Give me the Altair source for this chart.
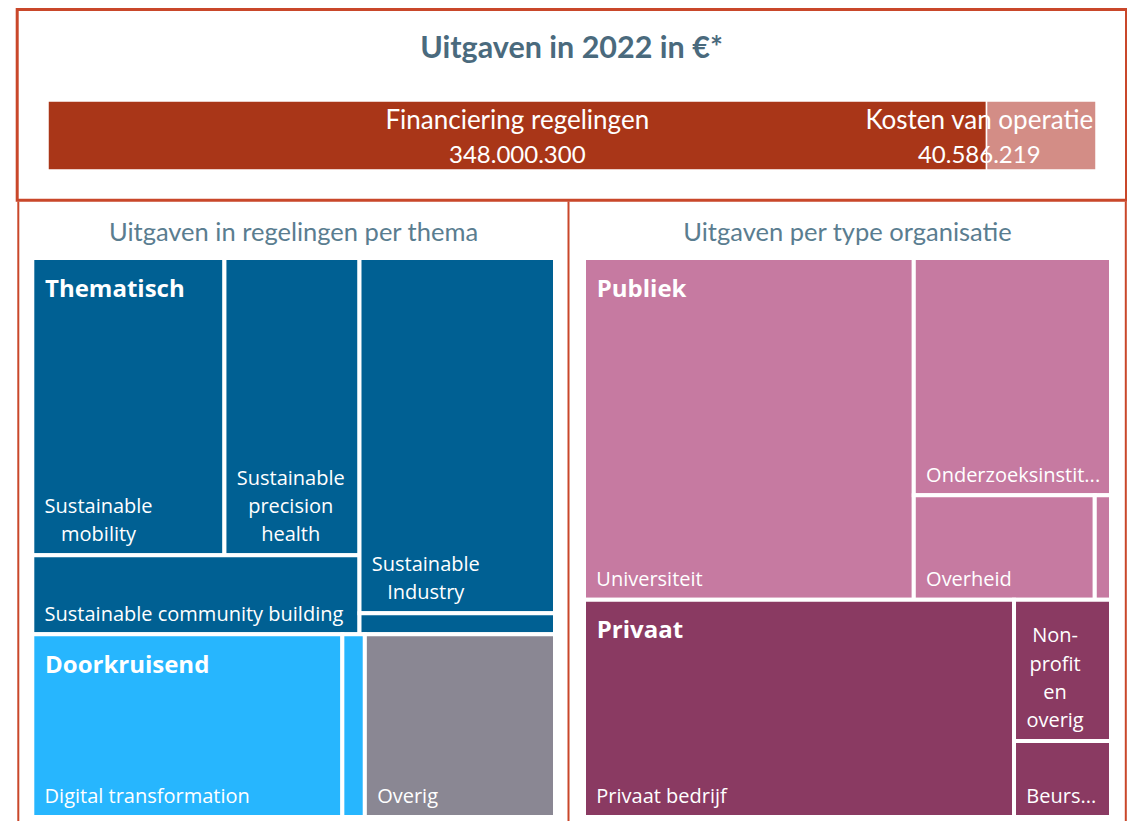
import math
import altair as alt
import pandas as pd

# ---------------- data ----------------
main_title = ["Uitgaven in 2022 in €*"]
panel_titles = ["Uitgaven in regelingen per thema", "Uitgaven per type organisatie"]

bar_categories = ["Financiering regelingen", "Kosten van operatie"]
bar_values = [348000300, 40586219]
bar_colors = ["#A93618", "#D38D86"]

thema_groups = ["Thematisch", "Thematisch", "Thematisch", "Thematisch", "Thematisch",
                "Doorkruisend", "Doorkruisend", "Overig"]
thema_names = ["Sustainable mobility", "Sustainable precision health",
               "Sustainable community building", "Sustainable Industry",
               "Overig thematisch", "Digital transformation", "Overig doorkruisend", "Overig"]
thema_values = [68_000_000, 47_800_000, 30_800_000, 82_700_000, 4_900_000,
                67_500_000, 4_900_000, 41_400_000]
thema_group_names = ["Thematisch", "Doorkruisend", "Overig"]
thema_group_colors = ["#006093", "#27B6FE", "#8A8793"]

org_groups = ["Publiek", "Publiek", "Publiek", "Publiek", "Privaat", "Privaat", "Privaat"]
org_names = ["Universiteit", "Onderzoeksinstituut", "Overheid", "Overig publiek",
             "Privaat bedrijf", "Non-profit en overig", "Beursgenoteerd bedrijf"]
org_values = [133_100_000, 55_300_000, 22_300_000, 2_000_000,
              110_400_000, 16_200_000, 8_700_000]
org_group_names = ["Publiek", "Privaat"]
org_group_colors = ["#C67AA1", "#8A3A62"]

# nested split structure of the treemaps ("h" = side by side, "v" = stacked)
thema_tree = ("v", [
    ("h", [("v", [("h", ["Sustainable mobility", "Sustainable precision health"]),
                  "Sustainable community building"]),
           ("v", ["Sustainable Industry", "Overig thematisch"])]),
    ("h", [("h", ["Digital transformation", "Overig doorkruisend"]), "Overig"]),
])
org_tree = ("v", [
    ("h", ["Universiteit", ("v", ["Onderzoeksinstituut", ("h", ["Overheid", "Overig publiek"])])]),
    ("h", ["Privaat bedrijf", ("v", ["Non-profit en overig", "Beursgenoteerd bedrijf"])]),
])

# ---------------- style / layout constants ----------------
ORANGE = "#C9472A"
TITLE_COLOR = "#4A6A7D"
SUB_COLOR = "#5A7D90"
W, H = 1119, 813          # chart size (page minus 8px margins)
OFF = 8                   # page margin
LABEL_FS = 20
HEAD_FS = 24
LH = 28.3

X_SC = alt.Scale(domain=[OFF, OFF + W], range=[0, W], nice=False)
Y_SC = alt.Scale(domain=[OFF, OFF + H], range=[0, H], nice=False)

# Open Sans advance widths (em) for label fitting
OS_W = {
    ' ': .260, '-': .322, '.': .266, ',': .248,
    'a': .556, 'b': .613, 'c': .476, 'd': .613, 'e': .561, 'f': .339, 'g': .548, 'h': .614,
    'i': .253, 'j': .253, 'k': .525, 'l': .253, 'm': .930, 'n': .614, 'o': .604, 'p': .613,
    'q': .613, 'r': .408, 's': .477, 't': .353, 'u': .614, 'v': .501, 'w': .778, 'x': .524,
    'y': .502, 'z': .477,
    'A': .633, 'B': .648, 'C': .631, 'D': .729, 'E': .556, 'F': .516, 'G': .728, 'H': .738,
    'I': .279, 'J': .268, 'K': .628, 'L': .549, 'M': .903, 'N': .754, 'O': .779, 'P': .602,
    'Q': .779, 'R': .618, 'S': .549, 'T': .561, 'U': .738, 'V': .606, 'W': .928, 'X': .577,
    'Y': .561, 'Z': .568,
}


def text_w(s, size=LABEL_FS):
    return sum(OS_W.get(ch, 0.57) for ch in s) * size


def split_words(name):
    toks = []
    for part in name.split(" "):
        while "-" in part[:-1]:
            i = part.index("-")
            toks.append(part[:i + 1])
            part = part[i + 1:]
        toks.append(part)
    return toks


def truncate(s, avail):
    for k in range(len(s), 0, -1):
        t = s[:k].rstrip() + "..."
        if text_w(t) <= avail:
            return t
    return ""


def wrap(name, avail, maxlines):
    if maxlines < 1 or avail <= 0:
        return []
    lines, cur = [], ""
    for tok in split_words(name):
        cand = tok if not cur else cur + ("" if cur.endswith("-") else " ") + tok
        if text_w(cand) <= avail:
            cur = cand
            continue
        if cur:
            lines.append(cur)
        cur = tok
        if text_w(tok) > avail:
            lines.append(truncate(tok, avail))
            cur = ""
            break
    if cur:
        lines.append(cur)
    lines = [l for l in lines if l]
    if len(lines) > maxlines:
        lines = lines[:maxlines]
        lines[-1] = truncate(lines[-1], avail)
    return lines


def node_value(node, vals):
    if isinstance(node, str):
        return vals[node]
    return sum(node_value(k, vals) for k in node[1])


def layout(node, vals, x0, y0, x1, y1, out):
    if isinstance(node, str):
        out[node] = (x0, y0, x1, y1)
        return
    orient, kids = node
    tot = sum(node_value(k, vals) for k in kids)
    pos = x0 if orient == "h" else y0
    for k in kids:
        f = node_value(k, vals) / tot
        if orient == "h":
            w = (x1 - x0) * f
            layout(k, vals, pos, y0, pos + w, y1, out)
            pos += w
        else:
            h = (y1 - y0) * f
            layout(k, vals, x0, pos, x1, pos + h, out)
            pos += h


def treemap_frames(names, groups, values, gnames, gcolors, tree, bounds):
    vals = dict(zip(names, values))
    cmap = dict(zip(gnames, gcolors))
    rects = {}
    layout(tree, vals, *bounds, rects)
    cells = pd.DataFrame({
        "name": names, "group": groups, "value": values,
        "x0": [rects[n][0] for n in names], "y0": [rects[n][1] for n in names],
        "x1": [rects[n][2] for n in names], "y1": [rects[n][3] for n in names],
        "fill": [cmap[g] for g in groups],
    })
    single, multi, heads = [], [], []
    for _, r in cells.iterrows():
        w = r.x1 - r.x0
        h = r.y1 - r.y0
        avail = w - 4 - 10.3 - 5.0
        maxlines = math.floor((h - 4 - 20) / LH)
        lines = wrap(r["name"], avail, maxlines)
        n = len(lines)
        if n == 1:
            single.append({"x": r.x0 + 12.3, "y": r.y1 - 13.7, "text": lines[0]})
        elif n > 1:
            cx = r.x0 + 12.3 + max(text_w(l) for l in lines) / 2
            for i, l in enumerate(lines):
                multi.append({"x": cx, "y": r.y1 - 13.7 - (n - 1 - i) * LH, "text": l})
    for g in gnames:
        sub = cells[cells.group == g]
        if len(sub) == 1 and sub["name"].iloc[0] == g:
            continue
        heads.append({"x": sub.x0.min() + 12.7, "y": sub.y0.min() + 38.7, "text": g})
    return cells, pd.DataFrame(single), pd.DataFrame(multi), pd.DataFrame(heads)


def treemap_layers(cells, single, multi, heads):
    layers = [
        alt.Chart(cells).mark_rect(stroke="white", strokeWidth=4).encode(
            x=alt.X("x0:Q", scale=X_SC, axis=None), x2="x1:Q",
            y=alt.Y("y0:Q", scale=Y_SC, axis=None), y2="y1:Q",
            color=alt.Color("fill:N", scale=None),
            tooltip=["group:N", "name:N", alt.Tooltip("value:Q", format=",")],
        )
    ]
    for df, align, font_w, fs in [(single, "left", "normal", LABEL_FS),
                                  (multi, "center", "normal", LABEL_FS),
                                  (heads, "left", "bold", HEAD_FS)]:
        if len(df):
            layers.append(
                alt.Chart(df).mark_text(font="Open Sans", fontSize=fs, fontWeight=font_w,
                                        color="white", align=align, baseline="alphabetic").encode(
                    x=alt.X("x:Q", scale=X_SC, axis=None),
                    y=alt.Y("y:Q", scale=Y_SC, axis=None),
                    text="text:N",
                )
            )
    return layers


left = treemap_frames(thema_names, thema_groups, thema_values, thema_group_names,
                      thema_group_colors, thema_tree, (32.3, 258, 555, 817))
right = treemap_frames(org_names, org_groups, org_values, org_group_names,
                       org_group_colors, org_tree, (584, 258, 1111, 817))

# ---------------- top bar ----------------
bar_df = pd.DataFrame({"cat": bar_categories, "value": bar_values, "color": bar_colors})
bar_df["end"] = bar_df["value"].cumsum()
bar_df["start"] = bar_df["end"] - bar_df["value"]
bar_df["mid"] = (bar_df["start"] + bar_df["end"]) / 2
bar_df["amount"] = bar_df["value"].map(lambda v: f"{v:,}".replace(",", "."))
total = float(bar_df["value"].sum())
BX = alt.Scale(domain=[0, total], range=[40, 1088], nice=False)

bar = alt.Chart(bar_df).mark_rect(stroke="white", strokeWidth=1.5).encode(
    x=alt.X("start:Q", scale=BX, axis=None), x2="end:Q",
    y=alt.value(93), y2=alt.value(162),
    color=alt.Color("color:N", scale=None),
    tooltip=["cat:N", "amount:N"],
)


def bar_text(cat, field, yv, dx, fs):
    return alt.Chart(bar_df).transform_filter(alt.datum.cat == cat).mark_text(
        font="Lato", fontSize=fs, color="white", align="center", baseline="alphabetic", dx=dx
    ).encode(x=alt.X("mid:Q", scale=BX, axis=None), y=alt.value(yv), text=f"{field}:N")


bar_group = alt.layer(
    bar,
    bar_text(bar_categories[0], "cat", 121.3, 0, 26),
    bar_text(bar_categories[0], "amount", 154.7, 0, 24),
    bar_text(bar_categories[1], "cat", 121.3, -62, 26),
    bar_text(bar_categories[1], "amount", 154.7, -62, 24),
)

# ---------------- frames & titles ----------------
dummy = pd.DataFrame({"k": [0]})
box = alt.Chart(dummy).mark_rect(fillOpacity=0, stroke=ORANGE, strokeWidth=3).encode(
    x=alt.value(9.2), x2=alt.value(1118.5), y=alt.value(1.5), y2=alt.value(192.3)
)
rules = alt.Chart(pd.DataFrame({"x": [10.3, 560.5, 1117.8]})).mark_rule(
    color=ORANGE, strokeWidth=2).encode(
    x=alt.X("x:Q", scale=None, axis=None), y=alt.value(193.5), y2=alt.value(H)
)
title = alt.Chart(pd.DataFrame({"text": main_title})).mark_text(
    font="Lato", fontSize=30.5, fontWeight="bold", color=TITLE_COLOR, align="center",
    baseline="alphabetic").encode(x=alt.value(563.5), y=alt.value(49.8), text="text:N")
sub = alt.Chart(pd.DataFrame({"text": panel_titles, "x": [293.5, 847.5], "y": [241, 241]})).mark_text(
    font="Lato", fontSize=25.5, color=SUB_COLOR, align="center", baseline="alphabetic").encode(
    x=alt.X("x:Q", scale=X_SC, axis=None), y=alt.Y("y:Q", scale=Y_SC, axis=None), text="text:N")

layers = [rules, box, title, sub, bar_group] + treemap_layers(*left) + treemap_layers(*right)

chart = alt.layer(*layers).resolve_scale(x="independent", y="independent").properties(
    width=W, height=H, padding=0, autosize=alt.AutoSizeParams(type="none"), background="white"
).configure_view(strokeWidth=0)

chart.save("out.html", embed_options={"renderer": "svg", "actions": False})
